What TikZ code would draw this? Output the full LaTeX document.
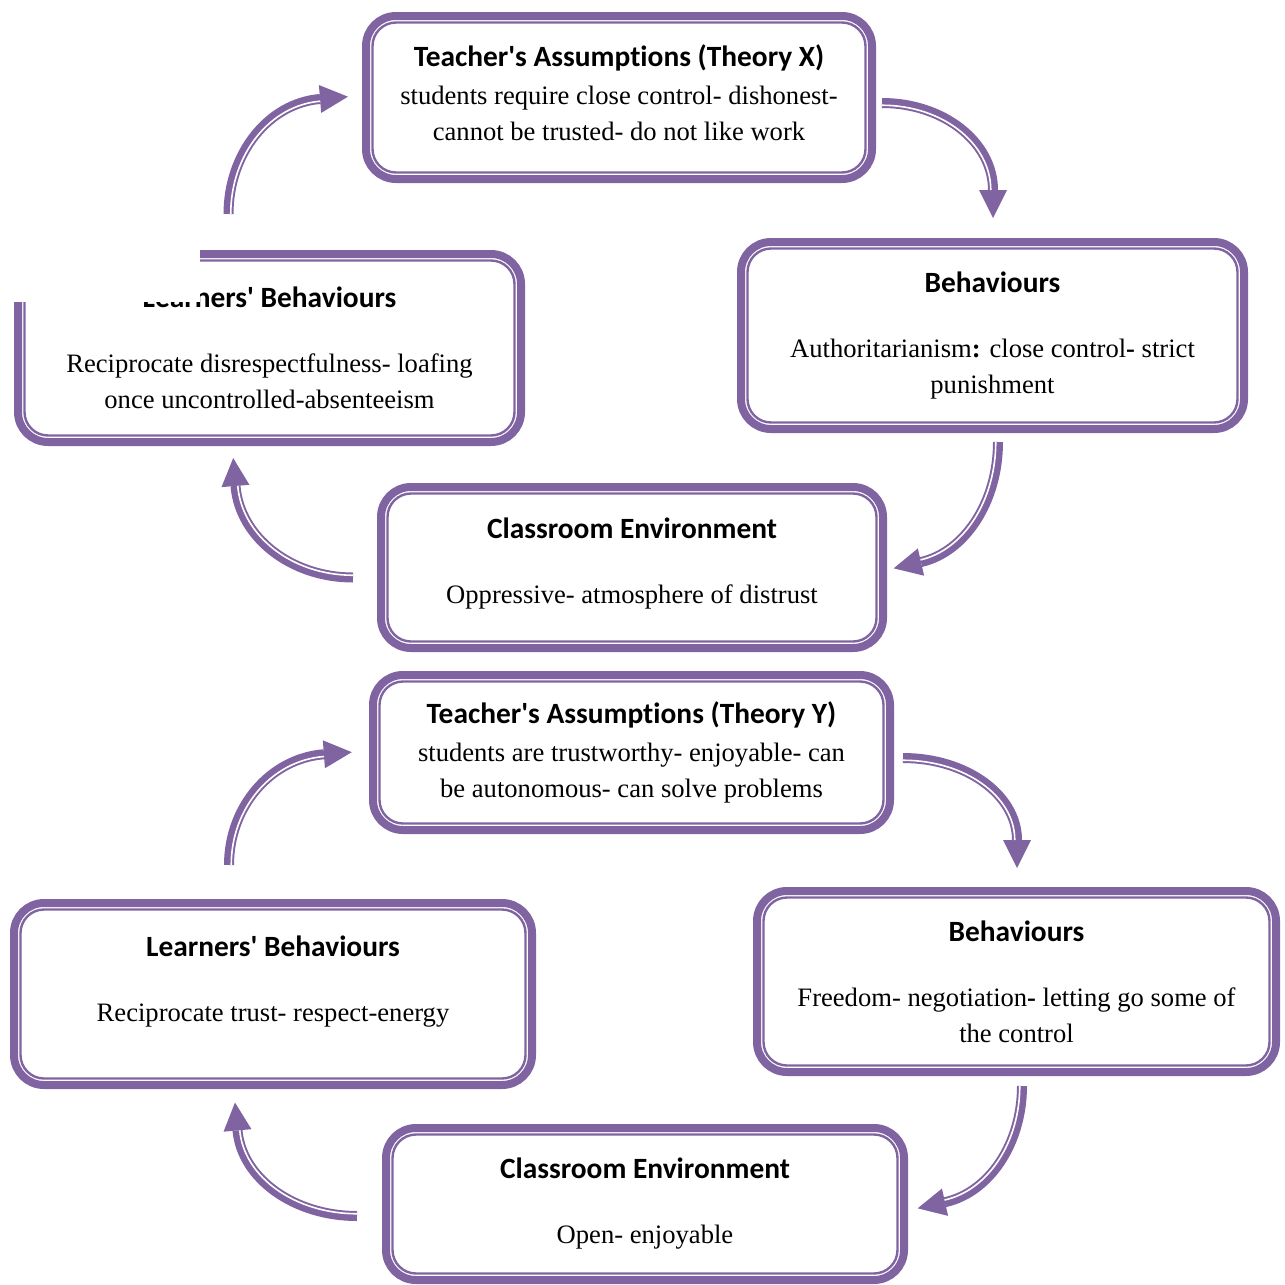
\documentclass[tikz,border=0pt]{standalone}
\usepackage{fontspec}
\setmainfont{Liberation Serif}
\newfontfamily\headfont{Carlito}[Ligatures=NoCommon]
\usetikzlibrary{arrows.meta}
\definecolor{lilac}{RGB}{128,100,162}
\newcommand{\hdfont}{\headfont\bfseries\fontsize{14.7pt}{18pt}\selectfont}
\newcommand{\bodyfont}{\fontsize{13.3pt}{18pt}\selectfont}
\tikzset{
  card/.style={draw=lilac,line width=4pt,rounded corners=15pt,fill=white,
    outer sep=0pt,align=center,font=\bodyfont},
  inner/.style={draw=lilac,line width=1.2pt,rounded corners=11.75pt},
  flow/.style={draw=lilac,line width=5pt,
    -{Triangle[length=14pt,width=14pt,line width=0pt]}},
  gap/.style={draw=white,line width=0.8pt},
}

\begin{document}
\begin{tikzpicture}[x=0.5pt,y=0.5pt]
  \fill[white] (0,0) rectangle (1285,-1285);
  % Theory X cycle
  \node[card,minimum width=253pt,minimum height=81.5pt,text depth=4.5pt] (tx) at (619,-97.5)
    {{\hdfont Teacher\textquotesingle s Assumptions (Theory X)}\\[1pt]
     students require close control- dishonest-\\cannot be trusted- do not like work};
  \node[card,minimum width=251.5pt,minimum height=93.5pt] (bx) at (992.5,-335.5)
    {{\hdfont Behaviours}\\[14.5pt]
     Authoritarianism\textbf{:} close control\textbf{-} strict\\punishment};
  \node[card,minimum width=251.5pt,minimum height=94pt] (lx) at (269.5,-348)
    {{\hdfont Learners\textquotesingle\ Behaviours}\\[14.5pt]
     Reciprocate disrespectfulness- loafing\\once uncontrolled-absenteeism};
  \node[card,minimum width=251pt,minimum height=80.5pt,text depth=7pt] (cx) at (632,-567.5)
    {{\hdfont Classroom Environment}\\[14.5pt]
     Oppressive- atmosphere of distrust};
  % Theory Y cycle
  \node[card,minimum width=258.5pt,minimum height=77.5pt] (ty) at (631.5,-752.5)
    {{\hdfont Teacher\textquotesingle s Assumptions (Theory Y)}\\[1pt]
     students are trustworthy- enjoyable- can\\be autonomous- can solve problems};
  \node[card,minimum width=259.5pt,minimum height=90.5pt] (by) at (1016.5,-981.5)
    {{\hdfont Behaviours}\\[14.5pt]
     Freedom- negotiation\textbf{-} letting go some of\\the control};
  \node[card,minimum width=259pt,minimum height=91pt,text depth=15pt] (ly) at (273,-994)
    {{\hdfont Learners\textquotesingle\ Behaviours}\\[14.5pt]
     Reciprocate trust- respect-energy};
  \node[card,minimum width=259pt,minimum height=76pt] (cy) at (645,-1204)
    {{\hdfont Classroom Environment}\\[14.5pt]
     Open- enjoyable};
  \foreach \n in {tx,bx,lx,cx,ty,by,ly,cy}
    \draw[inner] ([shift={(6.5,-6.5)}]\n.north west) rectangle ([shift={(-6.5,6.5)}]\n.south east);

  % curved arrows
  \coordinate (x1) at (882,-103);
  \coordinate (x2) at (998,-442);
  \coordinate (x3) at (353,-577.5);
  \coordinate (x4) at (228.5,-214);
  \coordinate (y1) at (903,-758);
  \coordinate (y2) at (1022,-1086);
  \coordinate (y3) at (357,-1216);
  \coordinate (y4) at (229,-865);

  \draw[flow] (x1) arc[start angle=90,end angle=0,x radius=111,y radius=87] -- ++(0,-28);
  \draw[gap] ([shift={(0,-2.25)}]x1) arc[start angle=90,end angle=0,x radius=108.75,y radius=84.75];
  \draw[flow] (x2) arc[start angle=0,end angle=-80,x radius=93.2,y radius=121.9] -- ++(-27.3,-6.3);
  \draw[gap] ([shift={(-2.25,0)}]x2) arc[start angle=0,end angle=-80,x radius=90.95,y radius=119.65];
  \draw[flow] (x3) arc[start angle=-90,end angle=-176,x radius=117.8,y radius=98.4] -- ++(-2.3,27.9);
  \draw[gap] ([shift={(0,2.25)}]x3) arc[start angle=-90,end angle=-176,x radius=115.55,y radius=96.15];
  \draw[flow] (x4) arc[start angle=180,end angle=94,x radius=98.4,y radius=115.3] -- ++(27.9,2.3);
  \draw[gap] ([shift={(2.25,0)}]x4) arc[start angle=180,end angle=94,x radius=96.15,y radius=113.05];

  \draw[flow] (y1) arc[start angle=90,end angle=0,x radius=114,y radius=82] -- ++(0,-28);
  \draw[gap] ([shift={(0,-2.25)}]y1) arc[start angle=90,end angle=0,x radius=111.75,y radius=79.75];
  \draw[flow] (y2) arc[start angle=0,end angle=-80,x radius=93.2,y radius=118] -- ++(-27.3,-6.1);
  \draw[gap] ([shift={(-2.25,0)}]y2) arc[start angle=0,end angle=-80,x radius=90.95,y radius=115.75];
  \draw[flow] (y3) arc[start angle=-90,end angle=-176,x radius=119.8,y radius=92] -- ++(-2.5,27.9);
  \draw[gap] ([shift={(0,2.25)}]y3) arc[start angle=-90,end angle=-176,x radius=117.55,y radius=89.75];
  \draw[flow] (y4) arc[start angle=180,end angle=94,x radius=102,y radius=111] -- ++(27.9,2.1);
  \draw[gap] ([shift={(2.25,0)}]y4) arc[start angle=180,end angle=94,x radius=99.75,y radius=108.75];

  % blank patch over the top left corner
  \fill[white] (0,0) rectangle (200,-302);
\end{tikzpicture}
\end{document}
